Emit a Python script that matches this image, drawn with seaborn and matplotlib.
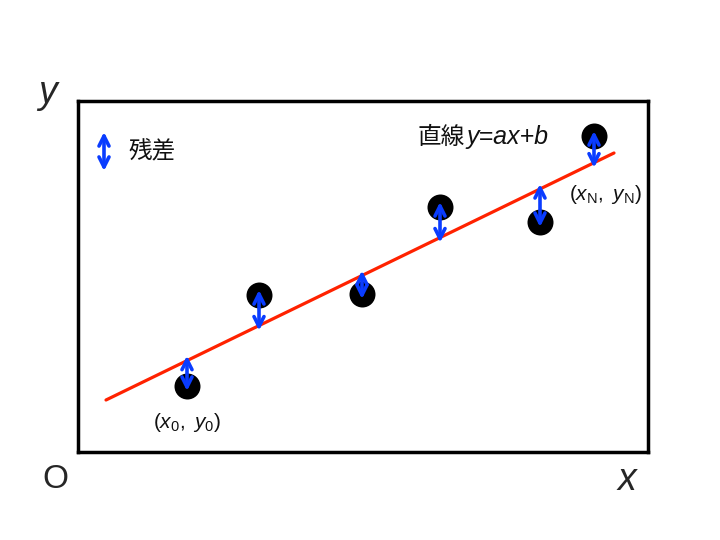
import matplotlib
matplotlib.use("Agg")
import matplotlib.pyplot as plt
import seaborn as sns
import numpy as np
import pandas as pd

# data (in box units)
point_x = [109, 181, 284, 362, 462, 516]
point_y = [66, 157, 158, 245, 230, 316]
line_x = [28, 536]
line_y = [52, 299]
label_first = r"$(\mathit{x}_{0},\ \mathit{y}_{0})$"
label_last = r"$(\mathit{x}_{\mathrm{N}},\ \mathit{y}_{\mathrm{N}})$"

sns.set_theme(style="white")
plt.rcParams['font.family'] = ['Noto Sans CJK JP', 'DejaVu Sans']
plt.rcParams['mathtext.fontset'] = 'custom'
plt.rcParams['mathtext.rm'] = 'Liberation Sans'
plt.rcParams['mathtext.it'] = 'Liberation Sans:italic'

fig = plt.figure(figsize=(7.2, 5.4), dpi=100)
ax = fig.add_axes([78/720, 88/540, 570/720, 351/540])
ax.set_xlim(0, 570)
ax.set_ylim(0, 351)

RED = "#ff2200"
BLUE = "#0a3cff"

df_line = pd.DataFrame({"x": line_x, "y": line_y})
sns.lineplot(data=df_line, x="x", y="y", ax=ax, color=RED, lw=2.3, zorder=2)

df_pts = pd.DataFrame({"x": point_x, "y": point_y})
sns.scatterplot(data=df_pts, x="x", y="y", ax=ax, color="black", s=300,
                edgecolor="black", zorder=3)

# residual arrows
for px, py in zip(point_x, point_y):
    ly = np.interp(px, line_x, line_y)
    d = np.sign(ly - py)
    ax.annotate("", xy=(px, ly + 5*d), xytext=(px, py - 5*d),
                arrowprops=dict(arrowstyle="<->", color=BLUE, lw=2.6,
                                mutation_scale=18, shrinkA=0, shrinkB=0),
                zorder=4)

# legend arrow
ax.annotate("", xy=(26, 320), xytext=(26, 281),
            arrowprops=dict(arrowstyle="<->", color=BLUE, lw=2.6,
                            mutation_scale=18, shrinkA=0, shrinkB=0))
ax.text(51, 300, "残差", fontsize=17, va="center", ha="left", color="#111111")

# line label
ax.text(340, 315, "直線", fontsize=17, va="center", ha="left", color="#111111")
ax.text(388, 315, "y=ax+b", fontsize=18, va="center", ha="left",
        family="Liberation Sans", style="italic", color="#111111")

ax.text(109, 29, label_first, fontsize=15, ha="center", va="center", color="#111111")
ax.text(527, 258, label_last, fontsize=15, ha="center", va="center", color="#111111")

ax.set_xlabel("")
ax.set_ylabel("")
ax.set_xticks([])
ax.set_yticks([])
for sp in ax.spines.values():
    sp.set_visible(True)
    sp.set_color("black")
    sp.set_linewidth(2.5)

fig.text(47/720, 1 - 93/540, "y", fontsize=27, ha="center", va="center",
         family="Liberation Sans", style="italic")
fig.text(55/720, 1 - 480/540, "O", fontsize=24, ha="center", va="center",
         family="Liberation Sans")
fig.text(627/720, 1 - 480/540, "x", fontsize=27, ha="center", va="center",
         family="Liberation Sans", style="italic")

fig.savefig("out.png", dpi=100, facecolor="white")
